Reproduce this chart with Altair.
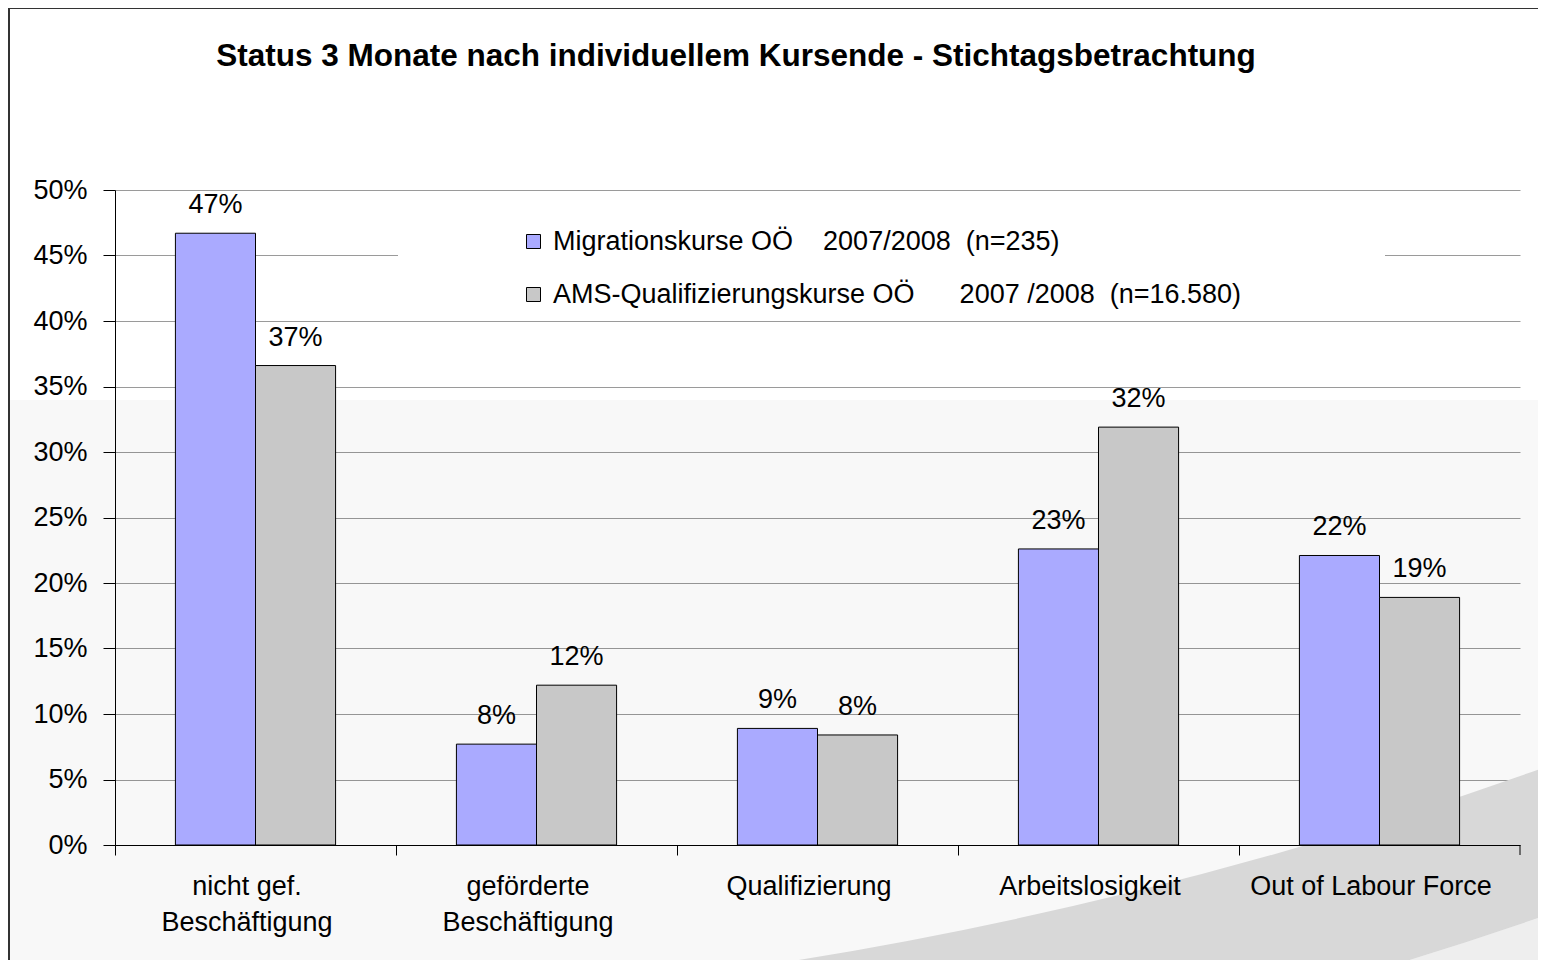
import altair as alt
import pandas as pd

NB = "\u00a0"
title_text = "Status 3 Monate nach individuellem Kursende - Stichtagsbetrachtung"
categories = ["nicht gef.|Beschäftigung", "geförderte|Beschäftigung", "Qualifizierung",
              "Arbeitslosigkeit", "Out of Labour Force"]
series = ["Migrationskurse OÖ" + NB * 4 + "2007/2008" + NB * 2 + "(n=235)",
          "AMS-Qualifizierungskurse OÖ" + NB * 6 + "2007" + NB + "/2008" + NB * 2 + "(n=16.580)"]
migration = [46.7, 7.7, 8.9, 22.6, 22.1]
ams = [36.6, 12.2, 8.4, 31.9, 18.9]
colors = ["#AAAAFF", "#C8C8C8"]
y_ticks = list(range(0, 51, 5))

rows = []
for c, m, a in zip(categories, migration, ams):
    rows.append({"category": c, "series": series[0], "value": m})
    rows.append({"category": c, "series": series[1], "value": a})
df = pd.DataFrame(rows)

FONT = "Liberation Sans"
FS = 27
W, H = 1405, 655
STEP = W / len(categories)

x_enc = alt.X("category:N", sort=categories,
              scale=alt.Scale(paddingInner=0.43, paddingOuter=0.215),
              axis=alt.Axis(title=None, labelExpr="split(datum.label, '|')", bandPosition=0.5,
                            tickOffset=-STEP / 2, labelOffset=STEP / 2 - 9, labelAngle=0,
                            labelFontSize=FS, labelFont=FONT, labelLimit=400,
                            labelColor="#000", labelLineHeight=36, labelPadding=18,
                            tickSize=10, tickColor="#000", domainColor="#000",
                            labelBaseline="top", grid=False, zindex=1))
y_enc = alt.Y("value:Q", scale=alt.Scale(domain=[0, 50], nice=False),
              axis=alt.Axis(title=None, values=y_ticks, labelExpr="datum.value + '%'",
                            labelFontSize=FS, labelFont=FONT, labelColor="#000",
                            tickSize=12, labelPadding=16, tickColor="#000", domainColor="#000",
                            gridColor="#9a9a9a", gridWidth=1))
xoff = alt.XOffset("series:N", sort=series, scale=alt.Scale(paddingInner=0, paddingOuter=0))

base = alt.Chart(df)

bars = base.mark_bar(stroke="#000", strokeWidth=1).encode(
    x=x_enc, y=y_enc, xOffset=xoff,
    color=alt.Color("series:N", sort=series, scale=alt.Scale(domain=series, range=colors),
                    legend=alt.Legend(orient="none", legendX=405, legendY=38, title=None,
                                      symbolType="square", symbolSize=196,
                                      symbolStrokeColor="#000", symbolStrokeWidth=1,
                                      labelFontSize=FS, labelFont=FONT, labelColor="#000",
                                      rowPadding=25, labelOffset=6, labelLimit=1000,
                                      padding=0)))

labels = base.mark_text(fontSize=FS, font=FONT, color="#000", baseline="alphabetic", dy=-20).encode(
    x=x_enc, y=y_enc, xOffset=xoff, text="lbl:N"
).transform_calculate(lbl="format(datum.value, '.0f') + '%'")

dummy = alt.Chart(pd.DataFrame({"d": [0]}))
lower_bg = dummy.mark_rect(fill="#000", opacity=0.028).encode(
    x=alt.value(-107), x2=alt.value(1431), y=alt.value(210), y2=alt.value(800))
# decorative swoosh in the lower right background
swoosh_light = dummy.mark_arc(fill="#EEEEEE").encode(
    x=alt.value(13), y=alt.value(-3366), radius=alt.value(4700), radius2=alt.value(4330),
    theta=alt.value(2.75), theta2=alt.value(3.05))
swoosh = dummy.mark_arc(fill="#D8D8D8").encode(
    x=alt.value(13), y=alt.value(-3366), radius=alt.value(4330), radius2=alt.value(4190),
    theta=alt.value(2.75), theta2=alt.value(3.05))
legend_box = dummy.mark_rect(fill="white").encode(
    x=alt.value(283), x2=alt.value(1270), y=alt.value(10), y2=alt.value(128))
frame = dummy.mark_rect(fill=None, stroke="#333", strokeWidth=2).encode(
    x=alt.value(-106), x2=alt.value(1460), y=alt.value(-182), y2=alt.value(900))
end_tick = dummy.mark_rule(color="#000").encode(
    x=alt.value(W), y=alt.value(H), y2=alt.value(H + 10))
title = dummy.mark_text(text=title_text, fontSize=31.5, fontWeight="bold", font=FONT,
                        color="#000", align="center", baseline="middle").encode(
    x=alt.value(621), y=alt.value(-133))

chart = alt.layer(lower_bg, swoosh_light, swoosh, frame, legend_box, bars, labels,
                  end_tick, title).properties(
    width=W, height=H, autosize="none",
    padding={"left": 107, "top": 182, "right": 18, "bottom": 115},
    background="white"
).configure_view(stroke=None)

chart.save("out.html", embed_options={"renderer": "svg", "actions": False})
